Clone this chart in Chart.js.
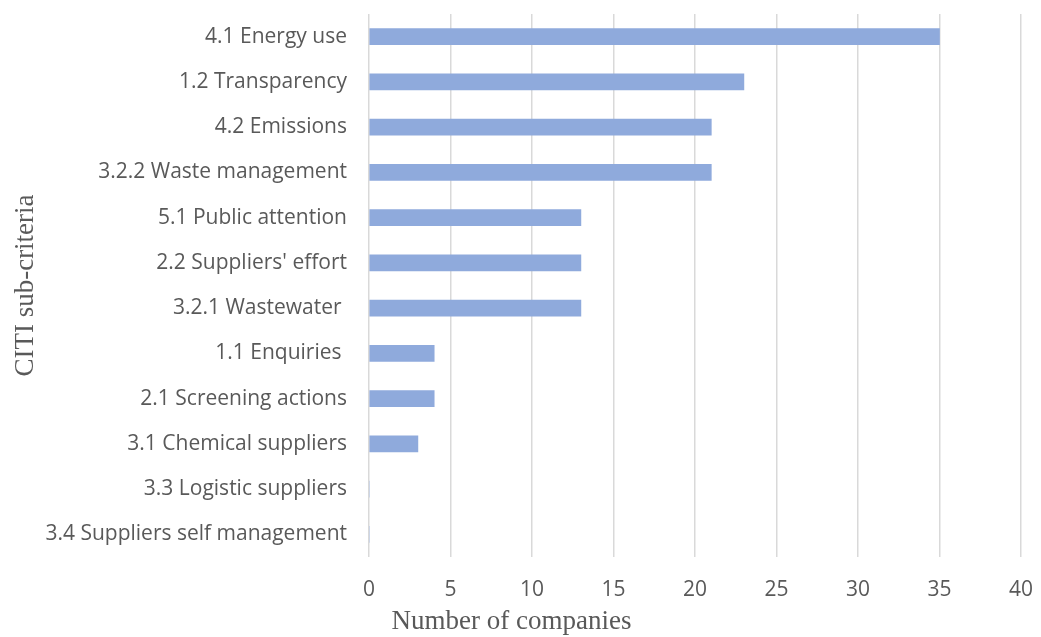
<!DOCTYPE html>
<html>
<head>
<meta charset="utf-8">
<script src="https://cdn.jsdelivr.net/npm/chart.js@4/dist/chart.umd.min.js"></script>
<style>
    html, body { margin: 0; padding: 0; background: #fff; }
    #wrap { width: 1041px; height: 637px; }
</style>
</head>
<body>
<div id="wrap"><canvas id="chart"></canvas></div>
<script>
// 子指标及企业数量
const categories = [
    '4.1 Energy use',
    '1.2 Transparency',
    '4.2 Emissions',
    '3.2.2 Waste management',
    '5.1 Public attention',
    "2.2 Suppliers' effort",
    '3.2.1 Wastewater ',
    '1.1 Enquiries ',
    '2.1 Screening actions',
    '3.1 Chemical suppliers',
    '3.3 Logistic suppliers',
    '3.4 Suppliers self management'
];
const companyCounts = [35, 23, 21, 21, 13, 13, 13, 4, 4, 3, 0, 0];
const xTicks = [0, 5, 10, 15, 20, 25, 30, 35, 40];
const xTitle = 'Number of companies';
const yTitle = 'CITI sub-criteria';

const tickFont = { family: '"Open Sans", Lato, sans-serif', size: 21 };
const titleFont = { family: '"Liberation Serif", "Times New Roman", serif', size: 27 };

// 横轴标题居中于整张图
const xTitlePlugin = {
    id: 'xTitle',
    afterDraw(chart) {
        const ctx = chart.ctx;
        ctx.save();
        ctx.font = `${titleFont.size}px ${titleFont.family}`;
        ctx.fillStyle = '#595959';
        ctx.textAlign = 'center';
        ctx.textBaseline = 'middle';
        ctx.fillText(xTitle, chart.width / 2 - 9, chart.height - 15);
        ctx.restore();
    }
};

new Chart(document.getElementById('chart'), {
    type: 'bar',
    data: {
        labels: categories,
        datasets: [{
            label: xTitle,
            data: companyCounts,
            backgroundColor: '#8faadc',
            barThickness: 16
        }]
    },
    options: {
        indexAxis: 'y',
        responsive: true,
        maintainAspectRatio: false,
        animation: false,
        layout: {
            autoPadding: false,
            padding: { left: 10, right: 20, top: 14, bottom: 0 }
        },
        plugins: {
            legend: { display: false },
            tooltip: { enabled: false }
        },
        scales: {
            x: {
                min: xTicks[0],
                max: xTicks[xTicks.length - 1],
                afterBuildTicks: scale => {
                    scale.ticks = xTicks.map(v => ({ value: v }));
                },
                afterFit: scale => {
                    scale.height = 80;
                    scale.paddingLeft = 0;
                    scale.paddingRight = 0;
                },
                grid: {
                    color: '#d9d9d9',
                    lineWidth: 1.5,
                    drawTicks: false
                },
                border: { display: false },
                ticks: {
                    color: '#595959',
                    font: tickFont,
                    padding: 20
                }
            },
            y: {
                afterFit: scale => {
                    scale.width = 359;
                    scale.paddingTop = 0;
                    scale.paddingBottom = 0;
                },
                grid: { display: false, drawTicks: false },
                border: { display: false },
                ticks: {
                    color: '#595959',
                    font: tickFont,
                    padding: 22,
                    autoSkip: false
                },
                title: {
                    display: true,
                    text: yTitle,
                    color: '#595959',
                    font: titleFont,
                    padding: 0
                }
            }
        }
    },
    plugins: [xTitlePlugin]
});
</script>
</body>
</html>
